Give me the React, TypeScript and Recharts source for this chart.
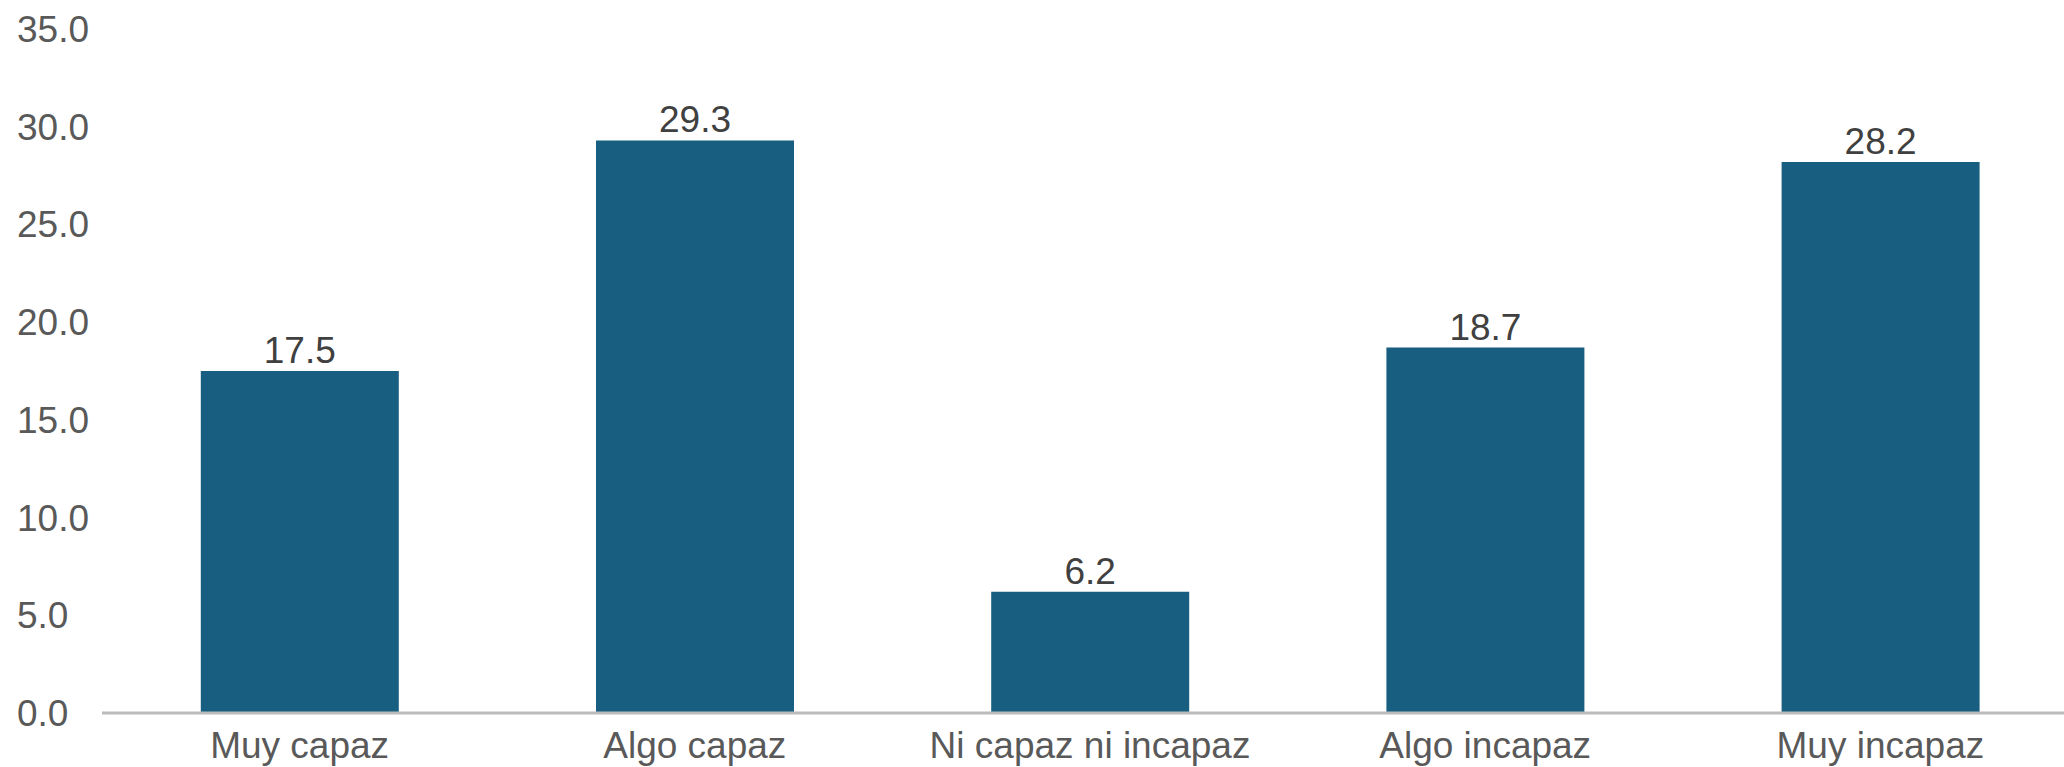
import { BarChart, Bar, XAxis, YAxis, LabelList } from 'recharts'

const categories = ['Muy capaz', 'Algo capaz', 'Ni capaz ni incapaz', 'Algo incapaz', 'Muy incapaz']
const values = [17.5, 29.3, 6.2, 18.7, 28.2]
const yTicks = [0, 5, 10, 15, 20, 25, 30, 35]

const data = categories.map((name, i) => ({ name, value: values[i] }))

const FONT = '"Liberation Sans", Arial, sans-serif'

function YTick(props: any) {
  const { y, payload } = props
  return (
    <text x={17} y={y} dy={13} textAnchor="start" fill="#595959" fontSize={37} fontFamily={FONT}>
      {Number(payload.value).toFixed(1)}
    </text>
  )
}

// recharts already puts the tick 8px below the axis line
function XTick(props: any) {
  const { x, y, payload } = props
  return (
    <text x={x} y={y} dy={37} textAnchor="middle" fill="#595959" fontSize={37} fontFamily={FONT}>
      {payload.value}
    </text>
  )
}

export default function App() {
  return (
    <div style={{ position: 'absolute', left: 0, top: 0, width: 2064, height: 767, overflow: 'hidden', background: '#fff' }}>
      <BarChart
        width={2078}
        height={767}
        data={data}
        margin={{ top: 29, right: 0, bottom: 0, left: 0 }}
        barCategoryGap="25%"
      >
        <XAxis
          dataKey="name"
          tick={<XTick />}
          tickLine={false}
          axisLine={{ stroke: '#bcbcbc', strokeWidth: 3 }}
          interval={0}
          height={54}
        />
        <YAxis
          domain={[0, 35]}
          ticks={yTicks}
          tick={<YTick />}
          axisLine={false}
          tickLine={false}
          width={102}
          interval={0}
        />
        <Bar dataKey="value" fill="#185e80" isAnimationActive={false}>
          <LabelList
            dataKey="value"
            position="top"
            offset={8}
            formatter={(v: any) => Number(v).toFixed(1)}
            style={{ fill: '#404040', fontSize: 37, fontFamily: FONT }}
          />
        </Bar>
      </BarChart>
    </div>
  )
}
